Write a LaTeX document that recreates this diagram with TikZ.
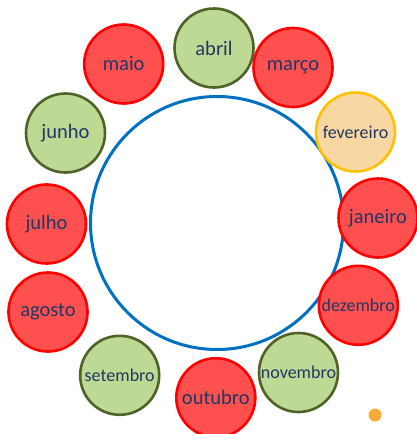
\documentclass[tikz,border=0pt]{standalone}
\usepackage{fontspec}
\setmainfont{Carlito}
\definecolor{redfill}{HTML}{FF5050}
\definecolor{redline}{HTML}{FF0000}
\definecolor{greenfill}{HTML}{BDD993}
\definecolor{greenline}{HTML}{4F6228}
\definecolor{orangefill}{HTML}{F8D7A2}
\definecolor{orangeline}{HTML}{FFC000}
\definecolor{bigblue}{HTML}{0070C0}
\definecolor{textnavy}{HTML}{1F3864}
\definecolor{dotorange}{HTML}{FBAA3C}
\begin{document}
\begin{tikzpicture}[x=1pt,y=-1pt,
  month/.style={circle,minimum size=79pt,inner sep=0pt,line width=2.6pt,text=textnavy,font=\fontsize{20.5}{21}\selectfont},
  longmonth/.style={month,font=\fontsize{18}{19}\selectfont},
  redm/.style={fill=redfill,draw=redline},
  greenm/.style={fill=greenfill,draw=greenline},
  orangem/.style={fill=orangefill,draw=orangeline}]
\useasboundingbox (0,0) rectangle (416,434);
\node[circle,minimum size=253pt,inner sep=0pt,draw=bigblue,line width=3pt] (big) at (217,223) {};
\node[month,redm] (maio) at (123.7,64) {maio};
\node[month,greenm] (abril) at (214,48) {abril};
\node[month,redm] (marco) at (293,67.5) {março};
\node[month,greenm] (junho) at (65.5,133) {junho};
\node[longmonth,orangem] (fevereiro) at (355.5,132) {fevereiro};
\node[month,redm] (janeiro) at (378,218) {janeiro};
\node[month,redm] (julho) at (46.5,224) {julho};
\node[month,redm] (agosto) at (48,312) {agosto};
\node[longmonth,redm] (dezembro) at (358.3,305.3) {dezembro};
\node[longmonth,greenm] (novembro) at (298.5,372.5) {novembro};
\node[longmonth,greenm] (setembro) at (119.7,375.3) {setembro};
\node[month,redm] (outubro) at (215.8,397.7) {outubro};
\node[circle,fill=dotorange,minimum size=13pt,inner sep=0pt] (dot) at (375,415) {};
\end{tikzpicture}
\end{document}
